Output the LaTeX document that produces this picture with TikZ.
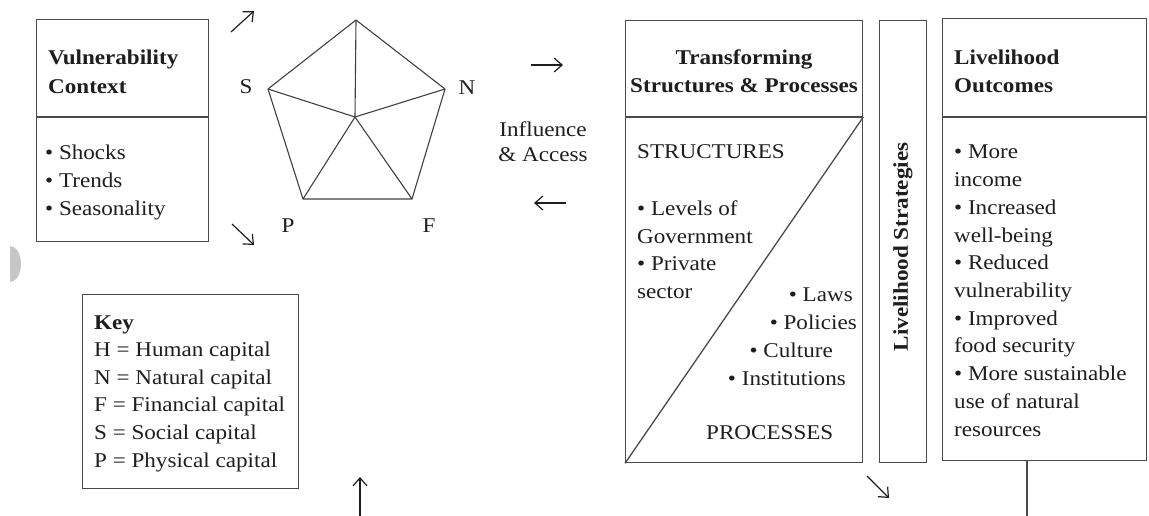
\documentclass[tikz,border=0pt]{standalone}
\usepackage{fontspec}
\setmainfont{Liberation Serif}[FakeStretch=1.1]
\usetikzlibrary{arrows.meta}
\definecolor{ink}{HTML}{1E1E1E}
\definecolor{frame}{HTML}{4A4A4A}
\definecolor{smudge}{HTML}{C6C6C6}
\begin{document}
\begin{tikzpicture}[x=1pt,y=-1pt,
  txt/.style={inner sep=0pt, text=ink, font=\fontsize{21}{27.6}\selectfont},
  head/.style={inner sep=0pt, text=ink, font=\fontsize{21}{27.6}\selectfont\bfseries},
  box/.style={draw=frame, line width=1.3pt, inner sep=0pt, anchor=north west},
  rule/.style={draw=frame, line width=2.2pt},
  thin/.style={draw=frame, line width=1.3pt},
  arr/.style={draw=ink, line width=1.2pt, -{Straight Barb[length=8pt,width=14pt,line width=1.2pt]}},
  web/.style={draw=ink!85, line width=1.1pt, line join=round}]
\useasboundingbox (0,0) rectangle (1149,516);

% grey half-disc at the left margin
\begin{scope}
  \clip (10,230) rectangle (30,300);
  \fill[smudge] (10,264) ellipse [x radius=11pt, y radius=18pt];
\end{scope}

% ---------- frames ----------
\node[box, minimum width=172pt, minimum height=222pt] (vc) at (36,19) {};
\draw[rule, line width=1.8pt] ([yshift=-98pt]vc.north west) -- ([yshift=-98pt]vc.north east);

\node[box, minimum width=237pt, minimum height=442pt] (tsp) at (625,20) {};
\draw[rule] ([yshift=-97pt]tsp.north west) -- ([yshift=-97pt]tsp.north east);
\draw[thin] ([yshift=-97pt]tsp.north east) -- (tsp.south west);

\node[box, minimum width=47pt, minimum height=442pt] (ls) at (879,20) {};

\node[box, minimum width=204pt, minimum height=442pt] (lo) at (942,18) {};
\draw[rule] ([yshift=-99pt]lo.north west) -- ([yshift=-99pt]lo.north east);

\node[box, minimum width=216pt, minimum height=194pt] (key) at (82,294) {};

% ---------- vulnerability context ----------
\node[head, anchor=base west] (vcA) at (48,65) {Vulnerability};
\node[head, anchor=base west] (vcB) at (48,94) {Context};
\node[txt, anchor=base west] (vc1) at (45,160) {• Shocks};
\node[txt, anchor=base west] (vc2) at (45,188) {• Trends};
\node[txt, anchor=base west] (vc3) at (45,215) {• Seasonality};

% ---------- asset pentagon ----------
\coordinate (pH) at (356,20);
\coordinate (pN) at (445,89);
\coordinate (pF) at (412,199);
\coordinate (pP) at (303,199);
\coordinate (pS) at (268,89);
\coordinate (pC) at (355,117);
\draw[web] (pH) -- (pN) -- (pF) -- (pP) -- (pS) -- cycle;
\foreach \v in {pH,pN,pF,pP,pS} \draw[web] (pC) -- (\v);
\node[txt] (lS) at (246,87) {S};
\node[txt] (lN) at (467,88) {N};
\node[txt] (lP) at (288,226) {P};
\node[txt] (lF) at (429,226) {F};

% ---------- influence & access ----------
\node[txt, anchor=base] (ia1) at (543,137) {Influence};
\node[txt, anchor=base] (ia2) at (543,162) {\& Access};

% ---------- transforming structures & processes ----------
\node[head, anchor=base] (tspA) at (744,65) {Transforming};
\node[head, anchor=base] (tspB) at (744,93) {Structures \& Processes};
\node[txt, anchor=base west] (st0) at (637,159) {STRUCTURES};
\node[txt, anchor=base west] (st1) at (637,215) {• Levels of};
\node[txt, anchor=base west] (st2) at (637,243) {Government};
\node[txt, anchor=base west] (st3) at (637,270) {• Private};
\node[txt, anchor=base west] (st4) at (637,298) {sector};
\node[txt, anchor=base east] (pr1) at (853,301) {• Laws};
\node[txt, anchor=base east] (pr2) at (857,329) {• Policies};
\node[txt, anchor=base east] (pr3) at (833,357) {• Culture};
\node[txt, anchor=base east] (pr4) at (846,385) {• Institutions};
\node[txt, anchor=base west] (pr0) at (706,439) {PROCESSES};

% ---------- livelihood strategies ----------
\node[head, rotate=90] (lsT) at (903,247) {Livelihood Strategies};

% ---------- livelihood outcomes ----------
\node[head, anchor=base west] (loA) at (954,65) {Livelihood};
\node[head, anchor=base west] (loB) at (954,93) {Outcomes};
\foreach \t [count=\i from 0] in {{• More},{income},{• Increased},{well-being},
    {• Reduced},{vulnerability},{• Improved},{food security},
    {• More sustainable},{use of natural},{resources}}
  \node[txt, anchor=base west, name=lo\i] at (954,{159+27.7*\i}) {\t};

% ---------- key ----------
\node[head, anchor=base west] (k0) at (94,329) {Key};
\foreach \t [count=\i] in {{H = Human capital},{N = Natural capital},
    {F = Financial capital},{S = Social capital},{P = Physical capital}}
  \node[txt, anchor=base west, name=k\i] at (94,{329+27.6*\i}) {\t};

% ---------- flow arrows ----------
\coordinate (a1s) at (231,32);  \coordinate (a1e) at (254,11);
\coordinate (a2s) at (232,224); \coordinate (a2e) at (254,245);
\coordinate (a3s) at (531,65);  \coordinate (a3e) at (563,65);
\coordinate (a4s) at (566,203); \coordinate (a4e) at (534,203);
\coordinate (a5s) at (867,476); \coordinate (a5e) at (889,498);
\coordinate (a6s) at (360,516); \coordinate (a6e) at (360,477);
\foreach \k in {1,...,6} \draw[arr] (a\k s) -- (a\k e);

% feedback line leaving the outcomes frame
\coordinate (fb) at (1027,516);
\draw[thin] (lo.south -| fb) -- (fb);
\end{tikzpicture}
\end{document}
